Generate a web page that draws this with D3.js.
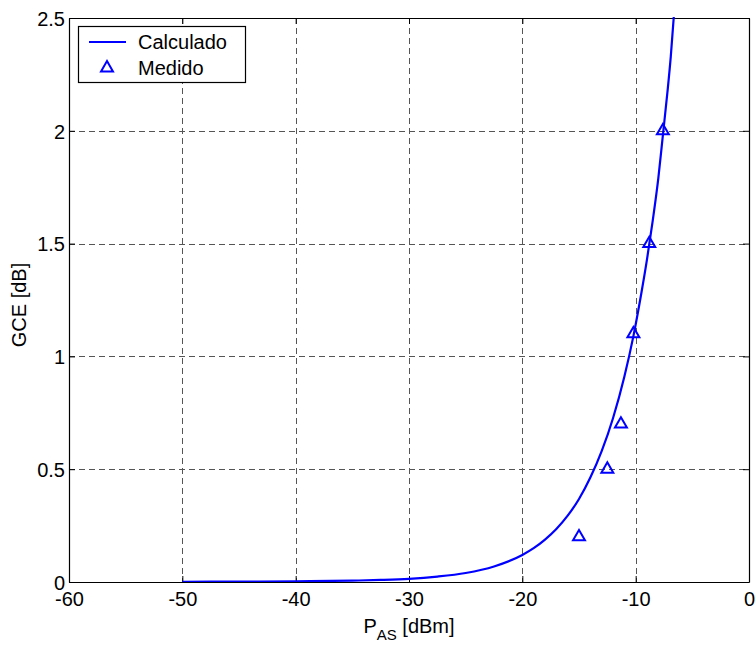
<!DOCTYPE html>
<html>
<head>
<meta charset="utf-8">
<script src="https://cdn.jsdelivr.net/npm/d3@7"></script>
<style>
  html, body { margin: 0; padding: 0; background: #fff; }
  svg { display: block; font-family: "Liberation Sans", Arial, sans-serif; }
</style>
</head>
<body>
<svg id="chart" width="756" height="646"></svg>
<script>
// Calculated GCE curve (dB) versus input power P_AS (dBm)
const calcPower = [-50, -45, -40, -35, -32.5, -30, -27.5, -25, -22.5, -20, -19, -18, -17, -16, -15, -14, -13, -12, -11, -10.2, -9.5, -9, -8.5, -8, -7.6, -7.2, -6.9, -6.6];
const calcGce   = [0.001, 0.002, 0.003, 0.006, 0.009, 0.014, 0.024, 0.04, 0.069, 0.12, 0.15, 0.188, 0.235, 0.294, 0.368, 0.463, 0.58, 0.726, 0.91, 1.09, 1.28, 1.43, 1.6, 1.79, 1.98, 2.17, 2.33, 2.53];

// Measured GCE points
const measPower = [-15, -12.5, -11.3, -10.2, -8.8, -7.6];
const measGce   = [0.2, 0.5, 0.7, 1.1, 1.5, 2.0];

// Axis ticks
const xTicks = [-60, -50, -40, -30, -20, -10, 0];
const yTicks = [0, 0.5, 1, 1.5, 2, 2.5];

const legendLabels = ["Calculado", "Medido"];

const blue = "#0000ff";
const svg = d3.select("#chart");
const m = { left: 69, right: 749, top: 18, bottom: 582 };

const x = d3.scaleLinear().domain([-60, 0]).range([m.left, m.right]);
const y = d3.scaleLinear().domain([0, 2.5]).range([m.bottom, m.top]);

// Dashed grid
const grid = svg.append("g").attr("stroke", "#555").attr("stroke-width", 1)
  .attr("stroke-dasharray", "6,4");
grid.selectAll("line.gx").data(xTicks.slice(1, -1)).join("line")
  .attr("x1", d => Math.round(x(d)) + 0.5).attr("x2", d => Math.round(x(d)) + 0.5)
  .attr("y1", m.top).attr("y2", m.bottom);
grid.selectAll("line.gy").data(yTicks.slice(1, -1)).join("line")
  .attr("y1", d => Math.round(y(d)) + 0.5).attr("y2", d => Math.round(y(d)) + 0.5)
  .attr("x1", m.left).attr("x2", m.right);

// Axes with inward ticks on all four sides
const fontSize = 20;
const bottom = svg.append("g").attr("transform", `translate(0,${m.bottom})`)
  .call(d3.axisBottom(x).tickValues(xTicks).tickSizeInner(-6).tickSizeOuter(0).tickPadding(10).tickFormat(d => String(d)));
const left = svg.append("g").attr("transform", `translate(${m.left},0)`)
  .call(d3.axisLeft(y).tickValues(yTicks).tickSizeInner(-6).tickSizeOuter(0).tickPadding(4).tickFormat(d => String(d)));
svg.append("g").attr("transform", `translate(0,${m.top})`)
  .call(d3.axisTop(x).tickValues(xTicks).tickSizeInner(-6).tickSizeOuter(0).tickFormat(""));
svg.append("g").attr("transform", `translate(${m.right},0)`)
  .call(d3.axisRight(y).tickValues(yTicks).tickSizeInner(-6).tickSizeOuter(0).tickFormat(""));

svg.selectAll(".domain").attr("stroke", "#000").attr("stroke-width", 1.2);
svg.selectAll(".tick line").attr("stroke", "#000");
svg.selectAll(".tick text").attr("font-size", fontSize)
  .attr("font-family", "'Liberation Sans', Arial, sans-serif").attr("fill", "#000");
bottom.selectAll(".tick text").attr("dy", "0.71em");
left.selectAll(".tick text").attr("dy", "0.36em");

// Clip marks to the plot area
svg.append("clipPath").attr("id", "plotClip").append("rect")
  .attr("x", m.left).attr("y", m.top - 1).attr("width", m.right - m.left).attr("height", m.bottom - m.top + 1);

const calc = calcPower.map((p, i) => [p, calcGce[i]]);
const line = d3.line().x(d => x(d[0])).y(d => y(d[1])).curve(d3.curveMonotoneX);
svg.append("path").datum(calc).attr("clip-path", "url(#plotClip)")
  .attr("d", line).attr("fill", "none").attr("stroke", blue).attr("stroke-width", 2.2);

const tri = d3.symbol().type(d3.symbolTriangle).size(62);
svg.append("g").selectAll("path").data(measPower.map((p, i) => [p, measGce[i]])).join("path")
  .attr("transform", d => `translate(${x(d[0])},${y(d[1])})`)
  .attr("d", tri).attr("fill", "none").attr("stroke", blue).attr("stroke-width", 2);

// Legend
const lg = svg.append("g");
lg.append("rect").attr("x", 78.5).attr("y", 26.5).attr("width", 167).attr("height", 56)
  .attr("fill", "#fff").attr("stroke", "#000").attr("stroke-width", 1.2);
lg.append("line").attr("x1", 89).attr("x2", 126).attr("y1", 42).attr("y2", 42)
  .attr("stroke", blue).attr("stroke-width", 2.2);
lg.append("path").attr("transform", "translate(107,68)").attr("d", tri)
  .attr("fill", "none").attr("stroke", blue).attr("stroke-width", 2);
lg.selectAll("text").data(legendLabels).join("text")
  .attr("x", 138).attr("y", (d, i) => 42 + i * 26).attr("dy", "0.36em")
  .attr("font-size", fontSize).attr("fill", "#000").text(d => d);

// Axis titles
svg.append("text").attr("transform", "translate(26,305) rotate(-90)")
  .attr("text-anchor", "middle").attr("font-size", fontSize).text("GCE [dB]");
const xt = svg.append("text").attr("x", 409).attr("y", 633).attr("text-anchor", "middle").attr("font-size", fontSize);
xt.append("tspan").text("P");
xt.append("tspan").attr("font-size", 15).attr("dy", 7).text("AS");
xt.append("tspan").attr("dy", -7).text(" [dBm]");
</script>
</body>
</html>
